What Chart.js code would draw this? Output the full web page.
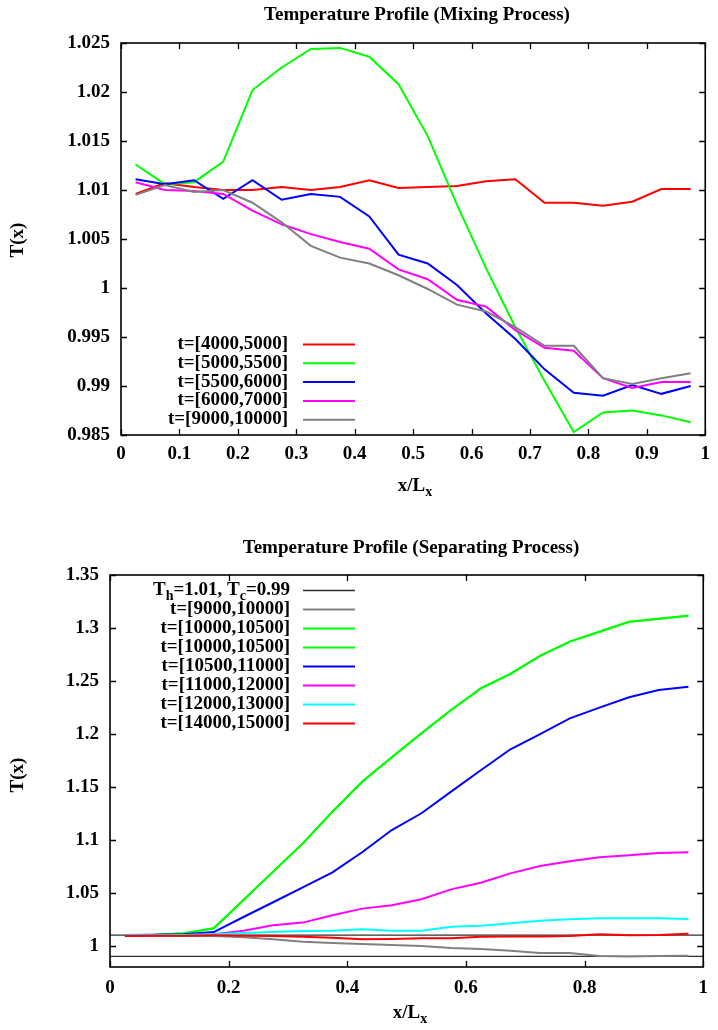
<!DOCTYPE html>
<html>
<head>
<meta charset="utf-8">
<script src="https://cdn.jsdelivr.net/npm/chart.js@4/dist/chart.umd.min.js"></script>
<style>
  html, body { margin: 0; padding: 0; background: #fff; }
  #wrap { position: relative; width: 718px; height: 1030px; }
  canvas { position: absolute; left: 0; }
  #mix { top: 0; }
  #sep { top: 520px; }
</style>
</head>
<body>
<div id="wrap">
  <canvas id="mix" width="718" height="510"></canvas>
  <canvas id="sep" width="718" height="510"></canvas>
</div>
<script>
// Sample positions along the channel (cell centres, x/Lx)
const xPos = [0.025, 0.075, 0.125, 0.175, 0.225, 0.275, 0.325, 0.375, 0.425, 0.475,
              0.525, 0.575, 0.625, 0.675, 0.725, 0.775, 0.825, 0.875, 0.925, 0.975];

// ---- Mixing process: time-averaged temperature profiles ----
const mixLabels = ['t=[4000,5000]', 't=[5000,5500]', 't=[5500,6000]', 't=[6000,7000]', 't=[9000,10000]'];
const mix4000 = [1.0096, 1.0107, 1.0103, 1.0100, 1.0100, 1.0103, 1.0100, 1.0103, 1.0110, 1.0102,
                 1.0103, 1.0104, 1.0109, 1.0111, 1.0087, 1.0087, 1.0084, 1.0088, 1.0101, 1.0101];
const mix5000 = [1.0126, 1.0106, 1.0108, 1.0129, 1.0202, 1.0225, 1.0244, 1.0245, 1.0236, 1.0208,
                 1.0155, 1.0085, 1.0020, 0.9960, 0.9905, 0.9853, 0.9873, 0.9875, 0.9870, 0.9863];
const mix5500 = [1.0111, 1.0106, 1.0110, 1.0091, 1.0110, 1.0090, 1.0096, 1.0093, 1.0073, 1.0034,
                 1.0025, 1.0003, 0.9974, 0.9948, 0.9917, 0.9893, 0.9890, 0.9901, 0.9892, 0.9900];
const mix6000 = [1.0108, 1.0100, 1.0099, 1.0096, 1.0079, 1.0065, 1.0055, 1.0047, 1.0040, 1.0019,
                 1.0009, 0.9988, 0.9981, 0.9957, 0.9939, 0.9936, 0.9908, 0.9898, 0.9904, 0.9904];
const mix9000 = [1.0095, 1.0105, 1.0098, 1.0100, 1.0087, 1.0067, 1.0043, 1.0031, 1.0025, 1.0013,
                 0.9999, 0.9983, 0.9976, 0.9960, 0.9941, 0.9941, 0.9908, 0.9902, 0.9908, 0.9913];
const mixXTicks = [0, 0.1, 0.2, 0.3, 0.4, 0.5, 0.6, 0.7, 0.8, 0.9, 1];
const mixYTicks = [0.985, 0.99, 0.995, 1, 1.005, 1.01, 1.015, 1.02, 1.025];

// ---- Separating process ----
const wallHot = 1.01, wallCold = 0.99;
const sepLabels = ['T_h=1.01, T_c=0.99', 't=[9000,10000]', 't=[10000,10500]', 't=[10000,10500]',
                   't=[10500,11000]', 't=[11000,12000]', 't=[12000,13000]', 't=[14000,15000]'];
const sep9000 = [1.0093, 1.0093, 1.0093, 1.0093, 1.0080, 1.0061, 1.0039, 1.0027, 1.0017, 1.0008,
                 0.9998, 0.9979, 0.9970, 0.9954, 0.9932, 0.9932, 0.9904, 0.9900, 0.9904, 0.9907];
const sep10000 = [1.0102, 1.0105, 1.0118, 1.0165, 1.0433, 1.0700, 1.0967, 1.1266, 1.1549, 1.1779,
                  1.2006, 1.2226, 1.2430, 1.2566, 1.2736, 1.2871, 1.2965, 1.3059, 1.3088, 1.3116];
const sep10500 = [1.0102, 1.0105, 1.0110, 1.0130, 1.0272, 1.0411, 1.0552, 1.0694, 1.0883, 1.1093,
                  1.1251, 1.1455, 1.1657, 1.1855, 1.1999, 1.2147, 1.2248, 1.2346, 1.2415, 1.2446];
const sep11000 = [1.0100, 1.0100, 1.0102, 1.0109, 1.0143, 1.0194, 1.0219, 1.0288, 1.0351, 1.0382,
                  1.0439, 1.0533, 1.0596, 1.0684, 1.0753, 1.0798, 1.0835, 1.0854, 1.0876, 1.0883];
const sep12000 = [1.0100, 1.0100, 1.0102, 1.0110, 1.0121, 1.0130, 1.0140, 1.0143, 1.0156, 1.0143,
                  1.0143, 1.0181, 1.0190, 1.0212, 1.0237, 1.0250, 1.0260, 1.0260, 1.0260, 1.0253];
const sep14000 = [1.0093, 1.0096, 1.0096, 1.0099, 1.0096, 1.0093, 1.0086, 1.0077, 1.0061, 1.0064,
                  1.0071, 1.0071, 1.0086, 1.0089, 1.0089, 1.0093, 1.0109, 1.0099, 1.0102, 1.0115];
const sepXTicks = [0, 0.2, 0.4, 0.6, 0.8, 1];
const sepYTicks = [1, 1.05, 1.1, 1.15, 1.2, 1.25, 1.3, 1.35];

// ---- styling ----
const FONT = '"Liberation Serif", "Times New Roman", serif';
const FS = 19;
const C = { red: '#ff0000', green: '#00ff00', blue: '#0000ff', magenta: '#ff00ff',
            cyan: '#00ffff', gray: '#808080', wall: '#303030' };

function pts(ys) { return ys.map((y, i) => ({ x: xPos[i], y: y })); }

function series(label, ys, color, i) {
  return { label, data: pts(ys), borderColor: color, backgroundColor: color,
           borderWidth: 2, pointRadius: 0, tension: 0, fill: false, order: -i };
}

// text with single-letter subscripts written as "_h"
function richParts(text) {
  const parts = [];
  let buf = '';
  for (let i = 0; i < text.length; i++) {
    if (text[i] === '_' && i + 1 < text.length) {
      if (buf) parts.push({ t: buf, sub: false });
      parts.push({ t: text[i + 1], sub: true });
      buf = ''; i++;
    } else buf += text[i];
  }
  if (buf) parts.push({ t: buf, sub: false });
  return parts;
}
function richWidth(ctx, text, fs) {
  let w = 0;
  for (const p of richParts(text)) {
    ctx.font = 'bold ' + (p.sub ? Math.round(fs * 0.72) : fs) + 'px ' + FONT;
    w += ctx.measureText(p.t).width;
  }
  return w;
}
function drawRich(ctx, text, x, y, align, fs) {
  const w = richWidth(ctx, text, fs);
  let cx = align === 'right' ? x - w : align === 'center' ? x - w / 2 : x;
  ctx.textBaseline = 'middle';
  ctx.textAlign = 'left';
  for (const p of richParts(text)) {
    ctx.font = 'bold ' + (p.sub ? Math.round(fs * 0.72) : fs) + 'px ' + FONT;
    ctx.fillText(p.t, cx, p.sub ? y + fs * 0.32 : y);
    cx += ctx.measureText(p.t).width;
  }
}

// frame, inward ticks on all four sides, title, axis titles, key
const decor = {
  id: 'decor',
  afterDraw(chart, args, o) {
    const ctx = chart.ctx, a = chart.chartArea;
    const xs = chart.scales.x, ys = chart.scales.y;
    ctx.save();
    ctx.strokeStyle = '#000';
    ctx.lineWidth = 1.3;
    ctx.beginPath();
    const tl = 6;
    for (const t of xs.ticks) {
      const px = Math.round(xs.getPixelForValue(t.value)) + 0.5;
      ctx.moveTo(px, a.bottom); ctx.lineTo(px, a.bottom - tl);
      ctx.moveTo(px, a.top); ctx.lineTo(px, a.top + tl);
    }
    for (const t of ys.ticks) {
      const py = Math.round(ys.getPixelForValue(t.value)) + 0.5;
      ctx.moveTo(a.left, py); ctx.lineTo(a.left + tl, py);
      ctx.moveTo(a.right, py); ctx.lineTo(a.right - tl, py);
    }
    ctx.stroke();
    ctx.lineWidth = 1.6;
    ctx.strokeRect(a.left, a.top, a.right - a.left, a.bottom - a.top);

    ctx.fillStyle = '#000';
    drawRich(ctx, o.title, o.titleX, o.titleY, 'center', 19);
    drawRich(ctx, 'x/L_x', o.xLabelX, o.xLabelY, 'center', FS);
    ctx.save();
    ctx.translate(18, o.yLabelY);
    ctx.rotate(-Math.PI / 2);
    drawRich(ctx, 'T(x)', 0, 0, 'center', FS);
    ctx.restore();

    // key: right-aligned text followed by a line sample
    let ky = o.keyY;
    for (const ds of chart.data.datasets) {
      ctx.fillStyle = '#000';
      drawRich(ctx, ds.label, o.keyTextRight, ky, 'right', FS);
      ctx.strokeStyle = ds.borderColor;
      ctx.lineWidth = ds.borderWidth;
      ctx.beginPath();
      ctx.moveTo(o.keyLine0, ky + 0.5);
      ctx.lineTo(o.keyLine1, ky + 0.5);
      ctx.stroke();
      ky += o.keyStep;
    }
    ctx.restore();
  }
};

function fmt(v) { return String(+v.toFixed(4)); }

const X_AXIS_H = 40;

function makeChart(id, datasets, cfg) {
  return new Chart(document.getElementById(id), {
    type: 'line',
    data: { datasets },
    plugins: [decor],
    options: {
      responsive: false,
      animation: false,
      events: [],
      layout: { padding: { left: 0, right: 718 - cfg.right, top: cfg.top, bottom: 510 - cfg.bottom - X_AXIS_H } },
      plugins: { legend: { display: false }, title: { display: false }, tooltip: { enabled: false },
                 decor: cfg.decor },
      scales: {
        x: {
          type: 'linear', min: 0, max: 1,
          grid: { display: false, drawTicks: false }, border: { display: false },
          afterBuildTicks: s => { s.ticks = cfg.xTicks.map(v => ({ value: v })); },
          afterFit: s => { s.height = X_AXIS_H; },
          ticks: { padding: cfg.xPad, color: '#000', font: { family: FONT, size: FS, weight: 'bold' },
                   maxRotation: 0, autoSkip: false, callback: v => fmt(v) }
        },
        y: {
          type: 'linear', min: cfg.yMin, max: cfg.yMax,
          grid: { display: false, drawTicks: false }, border: { display: false },
          afterBuildTicks: s => { s.ticks = cfg.yTicks.map(v => ({ value: v })); },
          afterFit: s => { s.width = cfg.left; },
          ticks: { padding: 11, color: '#000', font: { family: FONT, size: FS, weight: 'bold' },
                   autoSkip: false, callback: v => fmt(v) }
        }
      }
    }
  });
}

makeChart('mix', [
  series(mixLabels[0], mix4000, C.red, 0),
  series(mixLabels[1], mix5000, C.green, 1),
  series(mixLabels[2], mix5500, C.blue, 2),
  series(mixLabels[3], mix6000, C.magenta, 3),
  series(mixLabels[4], mix9000, C.gray, 4)
], {
  left: 121, right: 710, top: 43, bottom: 435, xPad: 8,
  yMin: 0.985, yMax: 1.025, xTicks: mixXTicks, yTicks: mixYTicks,
  decor: { title: 'Temperature Profile (Mixing Process)', titleX: 417, titleY: 15,
           xLabelX: 415, xLabelY: 486, yLabelY: 240,
           keyY: 344, keyStep: 18.8, keyTextRight: 288, keyLine0: 303, keyLine1: 355 }
});

const wallLine = {
  label: sepLabels[0],
  data: [{ x: 0, y: wallHot }, { x: 1, y: wallHot }, { x: 1, y: null }, { x: 0, y: wallCold }, { x: 1, y: wallCold }],
  borderColor: C.wall, backgroundColor: C.wall, borderWidth: 1.3, pointRadius: 0,
  tension: 0, spanGaps: false, fill: false, order: 0
};

makeChart('sep', [
  wallLine,
  series(sepLabels[1], sep9000, C.gray, 1),
  series(sepLabels[2], sep10000, C.green, 2),
  series(sepLabels[3], sep10000, C.green, 3),
  series(sepLabels[4], sep10500, C.blue, 4),
  series(sepLabels[5], sep11000, C.magenta, 5),
  series(sepLabels[6], sep12000, C.cyan, 6),
  series(sepLabels[7], sep14000, C.red, 7)
], {
  left: 110, right: 710, top: 55, bottom: 447, xPad: 10,
  yMin: 0.98, yMax: 1.35, xTicks: sepXTicks, yTicks: sepYTicks,
  decor: { title: 'Temperature Profile (Separating Process)', titleX: 411, titleY: 28,
           xLabelX: 410, xLabelY: 493, yLabelY: 255,
           keyY: 70, keyStep: 19, keyTextRight: 290, keyLine0: 303, keyLine1: 355 }
});
</script>
</body>
</html>
